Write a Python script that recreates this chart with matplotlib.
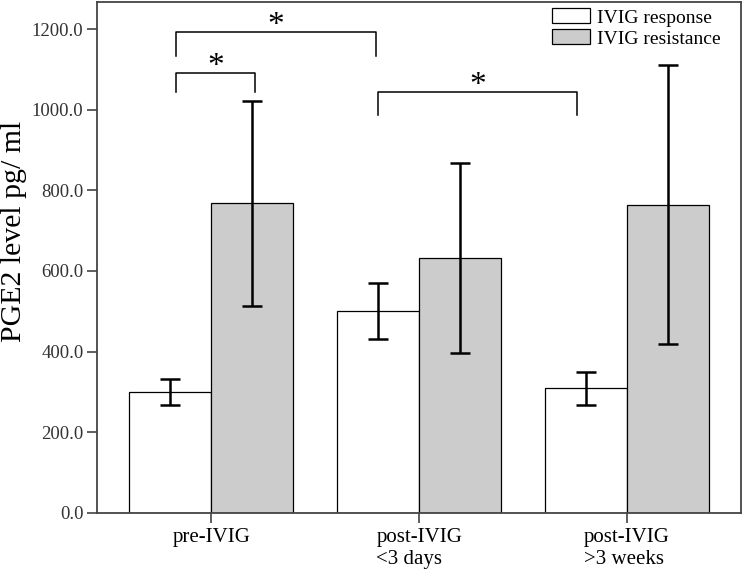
import matplotlib
matplotlib.use("Agg")
import matplotlib.pyplot as plt
import numpy as np

# data
groups = ["pre-IVIG", "post-IVIG\n<3 days", "post-IVIG\n>3 weeks"]
response_mean = [300, 500, 309]
response_err = [33, 70, 41]
resistance_mean = [768, 632, 764]
resistance_err = [254, 236, 346]
series_labels = ["IVIG response", "IVIG resistance"]
yticks = [0, 200, 400, 600, 800, 1000, 1200]

# significance brackets: (x_left, x_right, y_top, y_bottom_left, y_bottom_right)
brackets = [
    (-0.17, 0.79, 1194, 1134, 1134),
    (-0.17, 0.21, 1092, 1045, 1045),
    (0.80, 1.76, 1045, 987, 987),
]

plt.rcParams['font.family'] = ['Liberation Serif', 'DejaVu Serif']

fig = plt.figure(figsize=(7.44, 5.74), dpi=100)
ax = fig.add_axes([0.1308, 0.1068, 0.8652, 0.8902])

x = np.arange(len(groups))
w = 0.394
err_kw = dict(ecolor='black', elinewidth=1.8, capsize=7.5, capthick=1.8)
ax.bar(x - w/2, response_mean, w, yerr=response_err, color='white',
       edgecolor='black', linewidth=0.9, label=series_labels[0], error_kw=err_kw)
ax.bar(x + w/2, resistance_mean, w, yerr=resistance_err, color='#cccccc',
       edgecolor='black', linewidth=0.9, label=series_labels[1], error_kw=err_kw)

for xl, xr, yt, yl, yr in brackets:
    ax.plot([xl, xl, xr, xr], [yl, yt, yt, yr], color='black', lw=1.1)
    ax.text((xl + xr) / 2, yt - 7, '*', ha='center', va='baseline', fontsize=24)

ax.set_xlim(-0.548, 2.548)
ax.set_ylim(0, 1268)
ax.set_yticks(yticks)
ax.set_yticklabels([f"{v:.1f}" for v in yticks], fontsize=13.5, color='#333333')
ax.set_xticks(x)
ax.set_xticklabels(groups, fontsize=15, linespacing=1.25, multialignment='left')
ax.tick_params(axis='both', direction='out', length=7.5, width=1.1, color='#333333')
ax.tick_params(axis='y', pad=2.5)
ax.set_ylabel("PGE2 level pg/ ml", fontsize=21.5)
ax.yaxis.set_label_coords(-0.109, 0.55)
for s in ax.spines.values():
    s.set_color('#444444')
    s.set_linewidth(1.3)

ax.legend(loc='upper left', bbox_to_anchor=(0.707, 0.987), frameon=False,
          fontsize=14, handlelength=1.95, handleheight=0.8, handletextpad=0.33,
          labelspacing=0.15, borderpad=0, borderaxespad=0)

fig.savefig("out.png", dpi=100)
